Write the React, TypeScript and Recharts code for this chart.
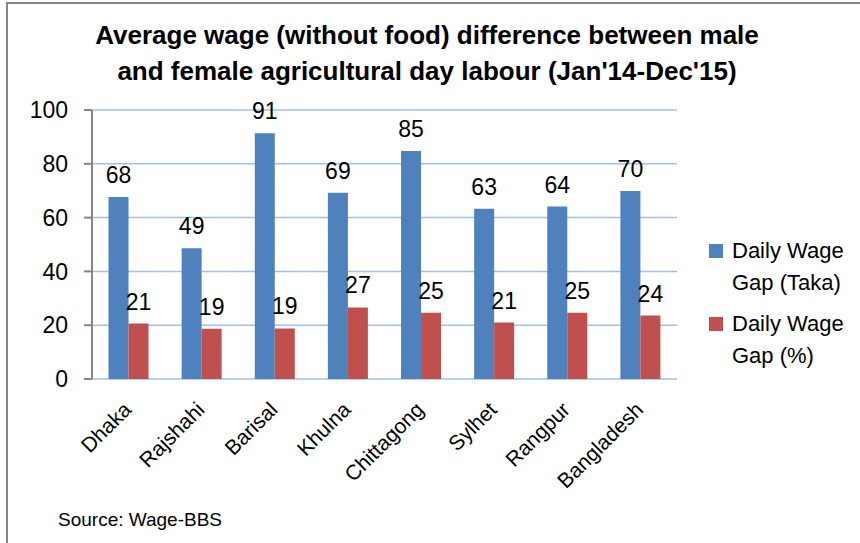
import React from 'react';
import { BarChart, Bar, XAxis, YAxis, CartesianGrid, LabelList } from 'recharts';

const categories = ['Dhaka', 'Rajshahi', 'Barisal', 'Khulna', 'Chittagong', 'Sylhet', 'Rangpur', 'Bangladesh'];
const wageGapTaka = [67.7, 48.6, 91.4, 69.2, 84.8, 63.3, 64.1, 69.9];
const wageGapPct = [20.6, 18.7, 18.8, 26.6, 24.6, 21.0, 24.6, 23.6];
const yTicks = [0, 20, 40, 60, 80, 100];
const seriesNames = ['Daily Wage Gap (Taka)', 'Daily Wage Gap (%)'];
const seriesColors = ['#4F81BD', '#C0504D'];
const titleLines = ["Average wage (without food) difference between male", "and female agricultural day labour (Jan'14-Dec'15)"];
const sourceText = 'Source: Wage-BBS';

const data = categories.map((name, i) => ({ name, taka: wageGapTaka[i], pct: wageGapPct[i] }));
const edgeTicks = categories.map((_, i) => i).concat(categories.length);

const FONT = '"Liberation Sans", Arial, sans-serif';
const AXIS = '#868686';

const CatTick = (props: any) => {
  const { x, y, payload } = props;
  return (
    <g transform={`translate(${x + 4},${y + 24})`}>
      <text transform="rotate(-45)" textAnchor="end" fontSize={21} fontFamily={FONT} fill="#000">
        {payload.value}
      </text>
    </g>
  );
};

export default function App() {
  return (
    <div style={{ position: 'absolute', left: 0, top: 0, width: 860, height: 543, overflow: 'hidden', background: '#fff' }}>
      <div style={{ position: 'absolute', left: 6, top: 2, width: 900, height: 600, borderLeft: `2px solid ${AXIS}`, borderTop: `2px solid ${AXIS}` }} />
      <div style={{ position: 'absolute', left: 0, top: 0 }}>
        <BarChart width={860} height={543} data={data} margin={{ top: 110, right: 183, bottom: 84, left: 0 }} barCategoryGap="22.6%" barGap={0}>
          <CartesianGrid vertical={false} stroke="#a6bfe6" strokeWidth={1.5} />
          <XAxis xAxisId="edge" type="number" domain={[0, categories.length]} ticks={edgeTicks} tick={false} tickSize={8} tickLine={{ stroke: AXIS, strokeWidth: 2 }} axisLine={{ stroke: AXIS, strokeWidth: 2 }} height={0} allowDataOverflow />
          <XAxis dataKey="name" axisLine={false} tickLine={false} height={80} interval={0} tick={<CatTick />} />
          <YAxis domain={[0, 100]} ticks={yTicks} width={92} tickSize={8} tickMargin={16} interval={0}
            axisLine={{ stroke: AXIS, strokeWidth: 2 }} tickLine={{ stroke: AXIS, strokeWidth: 2 }}
            tick={{ fontSize: 23, fontFamily: FONT, fill: '#000' }} />
          <Bar dataKey="taka" name={seriesNames[0]} fill={seriesColors[0]} isAnimationActive={false}>
            <LabelList dataKey="taka" position="top" offset={14} formatter={(v: any) => Math.round(Number(v))} style={{ fontSize: 23, fontFamily: FONT, fill: '#000' }} />
          </Bar>
          <Bar dataKey="pct" name={seriesNames[1]} fill={seriesColors[1]} isAnimationActive={false}>
            <LabelList dataKey="pct" position="top" offset={14} formatter={(v: any) => Math.round(Number(v))} style={{ fontSize: 23, fontFamily: FONT, fill: '#000' }} />
          </Bar>
        </BarChart>
      </div>
      <div style={{ position: 'absolute', left: 0, top: 17, width: 854, textAlign: 'center', fontFamily: FONT, fontWeight: 'bold', fontSize: 26, lineHeight: '36px', color: '#000' }}>
        {titleLines.map((t, i) => <div key={i}>{t}</div>)}
      </div>
      <div style={{ position: 'absolute', left: 708, top: 235, fontFamily: FONT, fontSize: 22, lineHeight: '32px', color: '#000' }}>
        {seriesNames.map((n, i) => (
          <div key={i} style={{ position: 'relative', paddingLeft: 24, width: 128, marginBottom: 9 }}>
            <span style={{ position: 'absolute', left: 1, top: 9, width: 14, height: 14, background: seriesColors[i] }} />
            {n}
          </div>
        ))}
      </div>
      <div style={{ position: 'absolute', left: 58, top: 508, fontFamily: FONT, fontSize: 19, lineHeight: '24px', color: '#000' }}>
        {sourceText}
      </div>
    </div>
  );
}
